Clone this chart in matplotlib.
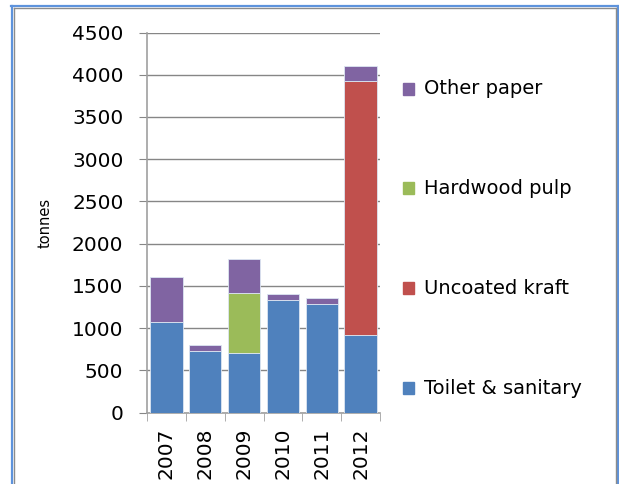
import matplotlib
matplotlib.use("Agg")
import matplotlib.pyplot as plt
from matplotlib.lines import Line2D
import numpy as np

years = ["2007", "2008", "2009", "2010", "2011", "2012"]
toilet = [1068, 724, 700, 1327, 1280, 912]
kraft = [0, 0, 0, 0, 0, 3017]
hardwood = [0, 0, 721, 0, 0, 0]
other = [542, 70, 397, 79, 79, 177]

series = [("Toilet & sanitary", toilet, "#4F81BD"),
          ("Uncoated kraft", kraft, "#C0504D"),
          ("Hardwood pulp", hardwood, "#9BBB59"),
          ("Other paper", other, "#8064A2")]

W, H = 619, 484
fig = plt.figure(figsize=(W / 100, H / 100), dpi=100)
ax = fig.add_axes([147 / W, 1 - 412.5 / H, (380 - 147) / W, (412.5 - 32.5) / H])

x = np.arange(len(years))
bottom = np.zeros(len(years))
for name, vals, col in series:
    ax.bar(x, vals, 0.83, bottom=bottom, color=col, edgecolor="#dce6f2",
           linewidth=0.6, zorder=3, label=name)
    bottom += np.array(vals)

ax.set_xlim(-0.5, len(years) - 0.5)
ax.set_ylim(0, 4500)
ax.set_yticks(range(0, 4501, 500))
ax.yaxis.grid(True, color="#868686", linewidth=1.0, zorder=0)
ax.set_xticks(x)
ax.set_xticklabels(years, rotation=90, fontsize=14.5)
ax.set_xticks(np.arange(-0.5, len(years)), minor=True)
ax.tick_params(axis="x", which="major", length=0, pad=11)
ax.tick_params(axis="x", which="minor", length=6, color="#a0a0a0")
ax.tick_params(axis="y", length=6, color="#868686", labelsize=14.5, pad=11)
for s in ["top", "right"]:
    ax.spines[s].set_visible(False)
for s in ["left", "bottom"]:
    ax.spines[s].set_color("#a0a0a0")
    ax.spines[s].set_linewidth(1.2)
ax.set_ylabel("tonnes", fontsize=10.5, labelpad=14)

# legend, top to bottom in reverse stacking order
leg_y = [89, 188, 288, 388]
for (name, vals, col), yy in zip(series[::-1], leg_y):
    fig.patches.append(plt.Rectangle((403 / W, 1 - (yy + 6) / H), 11 / W, 12 / H,
                                     transform=fig.transFigure, color=col))
    fig.text(424 / W, 1 - yy / H, name, fontsize=14, va="center", ha="left")

# chart frame
def fline(xs, ys, col, lw):
    fig.add_artist(Line2D([v / W for v in xs], [1 - v / H for v in ys],
                          transform=fig.transFigure, color=col, linewidth=lw))

fline([12, 12], [6, 484], "#5E93DC", 1.6)
fline([14, 14], [8, 484], "#8c8c8c", 1.0)
fline([11, 619], [6, 6], "#5E93DC", 1.6)
fline([14, 616], [8, 8], "#8c8c8c", 1.0)
fline([618, 618], [6, 484], "#5E93DC", 1.5)
fline([616, 616], [8, 484], "#8c8c8c", 1.0)

fig.savefig("out.png", dpi=100)
